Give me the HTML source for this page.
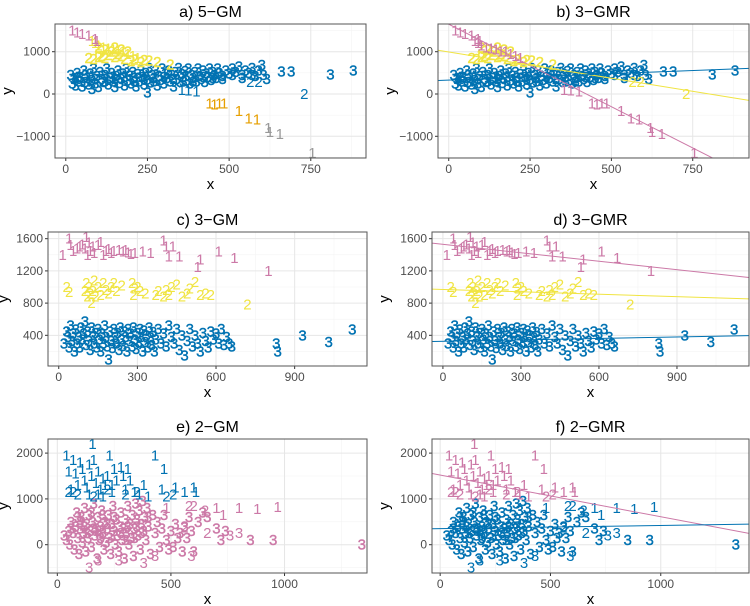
<!DOCTYPE html>
<html><head><meta charset="utf-8"><style>
html,body{margin:0;padding:0;background:#fff;}
svg{display:block;font-family:"Liberation Sans",sans-serif;}
</style></head><body>
<svg id="chart" width="750" height="606" viewBox="0 0 750 606" xmlns="http://www.w3.org/2000/svg"></svg>
<script>
const COL={B:'#0072B2',P:'#CC79A7',Y:'#F0E442',O:'#E69F00',G:'#999999'};
// ---------- dataset for panels a & b ----------
const abBlob=[[15,450],[20,250],[25,350],[30,200],[35,500],[40,300],[45,400],[50,180],[55,550],[60,280],[65,380],[70,220],[75,480],[80,330],[85,600],[90,250],[95,420],[100,170],[105,520],[110,350],[115,280],[120,450],[125,600],[130,220],[135,380],[140,500],[145,300],[150,170],[155,420],[160,550],[165,260],[170,350],[175,480],[180,200],[185,600],[190,320],[195,440],[200,250],[205,520],[210,380],[215,180],[220,470],[225,300],[230,560],[235,400],[240,230],[245,500],[250,340],[255,620],[260,270],[265,450],[270,380],[275,550],[280,200],[285,430],[290,330],[295,600],[300,250],[305,480],[310,380],[315,560],[320,300],[325,450],[330,180],[335,520],[340,360],[345,620],[350,280],[355,470],[360,400],[365,540],[370,320],[375,600],[380,250],[385,450],[390,380],[395,520],[400,300],[405,600],[410,430],[415,350],[420,550],[425,280],[430,480],[435,400],[440,600],[445,330],[450,520],[455,450],[460,380],[465,600],[470,500],[480,420],[490,550],[500,480],[510,600],[520,520],[530,650],[540,450],[550,560],[560,500],[570,620],[580,420],[590,550],[600,680],[605,450],[615,350],[30,380],[60,450],[90,350],[120,300],[150,350],[180,400],[210,300],[240,350],[270,300],[300,400],[330,350],[360,300],[390,300],[420,400],[450,380],[480,350],[510,450],[540,380],[570,450],[80,120],[250,40],[660,530],[690,530],[810,460],[880,560]];
const abYel=[[70,850],[85,830],[100,870],[110,900],[120,850],[130,920],[140,1000],[150,880],[160,950],[170,900],[180,830],[190,1000],[200,780],[210,820],[230,760],[240,800],[255,790],[280,760],[100,1100],[120,1050],[150,1100],[170,1050],[320,700]];
const abTopOnes=[[80,1250],[90,1200],[100,1150],[115,1100],[130,1080],[145,1050],[160,1000],[175,1000],[190,950],[205,900],[220,850]];
const abPink=[[20,1500],[35,1450],[50,1420],[70,1380],[90,1300],[95,1250]];
const abBlueOnes=[[355,100],[375,80],[400,60]];
const abOrange=[[440,-230],[455,-250],[470,-230],[485,-220],[530,-400],[560,-580],[585,-600]];
const abGray=[[620,-800],[625,-900],[655,-950],[755,-1400]];
const abTwos=[[565,280],[590,280],[730,0]];
// ---------- dataset for panels c & d ----------
const cdPink=[[15,1400],[40,1600],[45,1520],[55,1450],[70,1480],[80,1500],[90,1530],[100,1480],[105,1620],[110,1400],[115,1550],[120,1450],[130,1500],[135,1420],[150,1520],[160,1560],[170,1400],[180,1450],[190,1470],[200,1420],[210,1450],[230,1460],[245,1440],[255,1460],[265,1430],[275,1410],[290,1420],[320,1440],[350,1420],[400,1580],[410,1500],[420,1380],[435,1500],[460,1380],[530,1250],[540,1340],[610,1440],[670,1360],[800,1200]];
const cdYel=[[30,1000],[40,940],[100,950],[105,1050],[110,880],[115,1000],[120,920],[125,800],[130,950],[135,1080],[140,880],[150,1000],[160,900],[170,1050],[180,960],[190,920],[200,1000],[210,1050],[220,950],[240,1020],[280,1050],[285,900],[290,980],[300,1000],[310,950],[330,920],[370,900],[380,950],[400,880],[410,960],[420,900],[430,1000],[450,1030],[470,880],[490,920],[500,980],[520,1060],[540,900],[560,920],[580,900],[720,780]];
const cdBlue=[[20,300],[30,450],[35,380],[40,250],[45,520],[50,330],[55,420],[60,200],[65,470],[70,300],[75,380],[80,250],[85,500],[90,350],[95,420],[100,570],[105,280],[110,450],[115,330],[120,220],[125,500],[130,380],[135,300],[140,430],[145,250],[150,480],[155,350],[160,200],[165,420],[170,300],[175,520],[180,380],[185,260],[190,100],[195,450],[200,330],[205,240],[210,480],[215,380],[220,300],[225,430],[230,220],[235,500],[240,350],[245,270],[250,450],[255,380],[260,200],[265,480],[270,330],[275,420],[280,260],[285,500],[290,350],[295,230],[300,430],[305,310],[310,480],[315,380],[320,200],[325,460],[330,320],[335,400],[340,250],[345,500],[350,370],[355,280],[360,440],[365,200],[370,350],[380,480],[390,300],[400,420],[410,260],[420,520],[430,380],[440,300],[450,480],[460,220],[470,400],[480,150],[490,330],[500,480],[510,260],[520,400],[530,300],[540,200],[550,430],[560,330],[570,250],[580,450],[590,350],[600,420],[610,300],[620,480],[630,280],[640,380],[650,300],[660,260],[830,300],[835,200],[930,400],[1030,320],[1120,470]];
// ---------- dataset for panels e & f ----------
const efTop=[[40,1950],[50,1600],[60,1200],[70,1850],[80,1550],[90,1300],[100,1800],[110,1650],[120,1400],[130,1250],[140,1750],[150,1500],[155,2200],[160,1850],[170,1350],[180,1600],[190,1200],[200,1450],[210,1300],[220,1500],[230,1950],[240,1300],[250,1650],[260,1400],[280,1700],[290,1500],[300,1200],[310,1650],[320,1400],[340,1150],[360,1100],[380,1300],[400,1050],[430,1950],[460,1200],[470,1650],[520,1250],[560,1150],[600,1250],[610,1150],[180,1100],[200,1050],[240,1150],[140,1100]];
const efTopTwos=[[50,1150],[70,1150],[90,1100],[160,1050],[220,1200],[300,1100],[350,1150],[480,1050],[510,1100]];
const efBot=[[30,200],[40,100],[50,300],[55,0],[60,500],[70,250],[75,-100],[80,400],[85,700],[90,150],[95,-200],[100,350],[105,600],[110,50],[115,250],[120,800],[125,-150],[130,450],[135,150],[140,650],[145,300],[150,-50],[155,500],[160,900],[165,200],[170,350],[175,-300],[180,600],[185,100],[190,400],[195,750],[200,250],[205,-100],[210,500],[215,50],[220,350],[225,650],[230,150],[235,-200],[240,450],[245,850],[250,300],[255,0],[260,550],[265,200],[270,-150],[275,400],[280,700],[285,100],[290,350],[295,-300],[300,550],[305,250],[310,850],[315,0],[320,450],[325,150],[330,650],[335,-250],[340,350],[345,900],[350,550],[355,200],[360,750],[365,-100],[370,450],[375,950],[380,300],[385,600],[390,100],[395,800],[400,400],[410,-200],[420,650],[430,250],[440,500],[450,-50],[460,350],[470,650],[480,100],[490,-100],[500,300],[510,-50],[520,450],[530,150],[540,250],[550,-150],[560,400],[570,150],[580,600],[590,300],[600,-150],[620,500],[640,700],[660,600],[700,350],[720,100],[740,300],[850,100],[950,100],[1340,0],[130,250],[160,350],[190,150],[220,450],[250,600],[280,250],[310,400],[340,150],[370,250],[100,500],[150,700],[200,650],[120,400],[180,300],[240,200],[300,100],[350,400],[400,600],[60,350],[90,600]];
const efBotOnes=[[480,800],[700,800],[800,800],[880,780],[970,820],[730,650]];
const efBotTwos=[[650,750],[580,850],[600,850],[660,250],[560,380]];
const efBotThrees=[[140,-500],[180,-350],[270,-350],[380,-400],[430,-250],[590,-250],[760,200],[800,250]];

// --------- lines (regression fits) ---------
const bIntercepts=[1650,993,330];
const bSlopes=[-3.9,-1.24,0.3];
const bColors=['P','Y','B'];
const dIntercepts=[1530,970,325];
const dSlopes=[-0.35,-0.1,0.06];
const dColors=['P','Y','B'];
const fIntercepts=[1520,350];
const fSlopes=[-0.91,0.07];
const fColors=['P','B'];

const svg=document.getElementById('chart');
const NS='http://www.w3.org/2000/svg';
function mk(tag,attrs,parent){const e=document.createElementNS(NS,tag);for(const k in attrs)e.setAttribute(k,attrs[k]);(parent||svg).appendChild(e);return e;}

function panel(cfg){
  const g=mk('g',{});
  
  
  const {L,R,T,B,x0,x1,y0,y1}=cfg;
  const sx=v=>L+(v-x0)/(x1-x0)*(R-L);
  const sy=v=>B-(v-y0)/(y1-y0)*(B-T);
  const xt=cfg.xticks, yt=cfg.yticks;
  const xmin=[],ymin=[];
  const dx=xt[1]-xt[0], dy=yt[1]-yt[0];
  for(let v=xt[0]-dx/2;v<=x1;v+=dx) if(v>=x0) xmin.push(v);
  for(let v=yt[0]-dy/2;v<=y1;v+=dy) if(v>=y0) ymin.push(v);
  xmin.forEach(v=>mk('line',{x1:sx(v),x2:sx(v),y1:T,y2:B,stroke:'#f2f2f2','stroke-width':0.5},g));
  ymin.forEach(v=>mk('line',{x1:L,x2:R,y1:sy(v),y2:sy(v),stroke:'#f2f2f2','stroke-width':0.5},g));
  xt.forEach(v=>mk('line',{x1:sx(v),x2:sx(v),y1:T,y2:B,stroke:'#e6e6e6','stroke-width':1},g));
  yt.forEach(v=>mk('line',{x1:L,x2:R,y1:sy(v),y2:sy(v),stroke:'#e6e6e6','stroke-width':1},g));
  xt.forEach(v=>{mk('line',{x1:sx(v),x2:sx(v),y1:B,y2:B+3,stroke:'#333'},g);
    const t=mk('text',{x:sx(v),y:B+15,'text-anchor':'middle','font-size':12,fill:'#4d4d4d'},g);t.textContent=v;
    });
  yt.forEach(v=>{mk('line',{x1:L-3,x2:L,y1:sy(v),y2:sy(v),stroke:'#333'},g);
    const t=mk('text',{x:L-5,y:sy(v)+4,'text-anchor':'end','font-size':12,fill:'#4d4d4d'},g);t.textContent=(v<0?'\u2212'+(-v):v);
    });
  const pg=mk('g',{'font-size':15,'text-anchor':'middle'},g);
  
  
  cfg.groups.forEach(gr=>{
    gr.pts.forEach(p=>{
      const t=mk('text',{x:sx(p[0]),y:sy(p[1])+5,fill:COL[gr.c]},pg);
      if(gr.thick){t.setAttribute('stroke',COL[gr.c]);t.setAttribute('stroke-width','0.4');}
      t.textContent=gr.l;
      
      
    });
  });
  if(cfg.lines){
    const cid='clip-'+cfg.name;
    const cp=mk('clipPath',{id:cid},g);mk('rect',{x:L,y:T,width:R-L,height:B-T},cp);
    cfg.lines.ints.forEach((a,i)=>{
      const b=cfg.lines.slopes[i];
      const ln=mk('line',{x1:sx(x0),y1:sy(a+b*x0),x2:sx(x1),y2:sy(a+b*x1),stroke:COL[cfg.lines.cols[i]],'stroke-width':1,'clip-path':'url(#'+cid+')'},g);
      
      
    });
  }
  const br=mk('rect',{x:L,y:T,width:R-L,height:B-T,fill:'none',stroke:'#555','stroke-width':1},g);
  
  
  const ti=mk('text',{x:(L+R)/2,y:T-7,'text-anchor':'middle','font-size':16,fill:'#000'},g);ti.textContent=cfg.title;
  
  const xl=mk('text',{x:(L+R)/2,y:B+31,'text-anchor':'middle','font-size':15,fill:'#000'},g);xl.textContent='x';
  
  const yl=mk('text',{x:cfg.ylx,y:(T+B)/2,'text-anchor':'middle','font-size':15,fill:'#000',transform:'rotate(-90 '+cfg.ylx+' '+(T+B)/2+')'},g);yl.textContent='y';
  
}
const rowAB={T:24,B:158,x0:-33,x1:919,y0:-1513,y1:1655,xticks:[0,250,500,750],yticks:[-1000,0,1000]};
const rowCD={T:232,B:366,x0:-41,x1:1176,y0:19,y1:1683,xticks:[0,300,600,900],yticks:[400,800,1200,1600]};
const rowEF={T:439,B:573,x0:-41,x1:1363,y0:-618,y1:2308,xticks:[0,500,1000],yticks:[0,1000,2000]};
panel(Object.assign({name:'panel-a',title:'a) 5\u2212GM',L:55,R:366,ylx:12,groups:[
  {pts:abBlob,l:'3',c:'B',thick:1},{pts:abYel,l:'2',c:'Y',thick:1},{pts:abTopOnes,l:'1',c:'Y'},{pts:abPink,l:'1',c:'P'},
  {pts:abBlueOnes,l:'1',c:'B'},{pts:abOrange,l:'1',c:'O'},{pts:abGray,l:'1',c:'G'},{pts:abTwos,l:'2',c:'B'}]},rowAB));
panel(Object.assign({name:'panel-b',title:'b) 3\u2212GMR',L:438,R:749,ylx:395,groups:[
  {pts:abBlob,l:'3',c:'B',thick:1},{pts:abYel,l:'2',c:'Y',thick:1},{pts:abTopOnes,l:'1',c:'P'},{pts:abPink,l:'1',c:'P'},
  {pts:abBlueOnes,l:'1',c:'P'},{pts:abOrange,l:'1',c:'P'},{pts:abGray,l:'1',c:'P'},{pts:abTwos,l:'2',c:'Y'}],
  lines:{ints:bIntercepts,slopes:bSlopes,cols:bColors}},rowAB,{x0:-33,x1:923}));
panel(Object.assign({name:'panel-c',title:'c) 3\u2212GM',L:48,R:367,ylx:8,groups:[
  {pts:cdPink,l:'1',c:'P'},{pts:cdYel,l:'2',c:'Y'},{pts:cdBlue,l:'3',c:'B',thick:1}]},rowCD));
panel(Object.assign({name:'panel-d',title:'d) 3\u2212GMR',L:432,R:749,ylx:389,groups:[
  {pts:cdPink,l:'1',c:'P'},{pts:cdYel,l:'2',c:'Y'},{pts:cdBlue,l:'3',c:'B',thick:1}],
  lines:{ints:dIntercepts,slopes:dSlopes,cols:dColors}},rowCD,{x0:-42,x1:1177}));
panel(Object.assign({name:'panel-e',title:'e) 2\u2212GM',L:48,R:367,ylx:8,groups:[
  {pts:efBot,l:'3',c:'P',thick:1},{pts:efBotThrees,l:'3',c:'P'},{pts:efBotOnes,l:'1',c:'P'},{pts:efBotTwos,l:'2',c:'P'},
  {pts:efTop,l:'1',c:'B'},{pts:efTopTwos,l:'2',c:'B'}]},rowEF));
panel(Object.assign({name:'panel-f',title:'f) 2\u2212GMR',L:432,R:749,ylx:389,groups:[
  {pts:efBot,l:'3',c:'B',thick:1},{pts:efBotThrees,l:'3',c:'B'},{pts:efBotOnes,l:'1',c:'B'},{pts:efBotTwos,l:'2',c:'B'},
  {pts:efTop,l:'1',c:'P'},{pts:efTopTwos,l:'2',c:'P'}],
  lines:{ints:fIntercepts,slopes:fSlopes,cols:fColors}},rowEF,{x0:-37,x1:1400}));
</script>
</body></html>
